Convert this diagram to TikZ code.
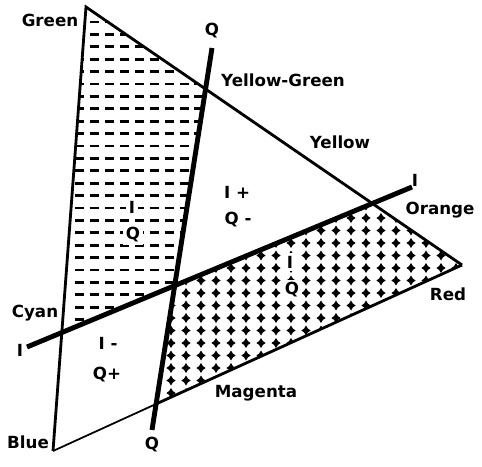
\documentclass[tikz,border=0pt]{standalone}
\usepackage{fontspec}
\setsansfont{DejaVu Sans}
\begin{document}
\begin{tikzpicture}[x=0.02cm, y=-0.02cm,
    edge/.style={line width=1.6pt},
    axis/.style={line width=2.8pt},
    lbl/.style={font=\sffamily\bfseries\fontsize{9.5}{11}\selectfont, inner sep=1pt},
    sgn/.style={lbl, fill=white, inner sep=1.5pt}
  ]
  \useasboundingbox (0,0) rectangle (482,466);
  % corners of the triangle
  \coordinate (gr) at (86,7);
  \coordinate (rd) at (462,265);
  \coordinate (bl) at (53,451);
  % ends of the I and Q axes
  \coordinate (qt) at (212,48);
  \coordinate (qb) at (152,430);
  \coordinate (il) at (27,347);
  \coordinate (ir) at (412,187);
  % crossings
  \coordinate (yg) at (205.5,89);
  \coordinate (cy) at (61.8,332.5);
  \coordinate (or) at (372.4,203.5);
  \coordinate (mg) at (156,404);
  \coordinate (o) at (174.7,285.5);

  % dashed fill, I+ Q+
  \begin{scope}
    \clip (gr) -- (yg) -- (o) -- (cy) -- cycle;
    \foreach \j in {0,...,26}
      \draw[line width=1.6pt, dash pattern=on 5.4pt off 3.1pt]
        (75,22+12.4*\j) -- (230,22+12.4*\j);
  \end{scope}

  % dotted fill, I- Q-
  \begin{scope}
    \clip (o) -- (or) -- (rd) -- (mg) -- cycle;
    \foreach \i in {0,...,21}
      \foreach \j in {0,...,19}
        \fill[shift={(141+15*\i,193+12.5*\j)}]
          (0,-5) -- (1.9,-1.9) -- (4.6,0) -- (1.9,1.9) -- (0,5)
          -- (-1.9,1.9) -- (-4.6,0) -- (-1.9,-1.9) -- cycle;
  \end{scope}

  % triangle
  \draw[edge] (rd) -- (gr) -- (bl);
  \draw[line width=1pt] (bl) -- (mg);
  \draw[edge] (mg) -- (rd);

  % axes
  \draw[axis] (qb) -- (qt);
  \draw[axis] (il) -- (ir);

  % colour names
  \node[lbl] (tgreen) at (50,20) {Green};
  \node[lbl] (tyg) at (283,80) {Yellow-Green};
  \node[lbl] (tyellow) at (340,142) {Yellow};
  \node[lbl] (torange) at (440,210) {Orange};
  \node[lbl] (tred) at (448,294) {Red};
  \node[lbl] (tmagenta) at (256,393) {Magenta};
  \node[lbl] (tblue) at (28,442) {Blue};
  \node[lbl] (tcyan) at (35,313) {Cyan};

  % axis names
  \node[lbl] (tqt) at (212,31) {Q};
  \node[lbl] (tqb) at (152,445) {Q};
  \node[lbl] (tir) at (415,180) {I};
  \node[lbl] (til) at (20,350) {I};

  % quadrant signs
  \node[sgn] (s1i) at (132,207) {I};
  \node[sgn] (s1q) at (133,235) {Q};
  \node[lbl] (s2i) at (237,192) {I +};
  \node[lbl] (s2q) at (238,220) {Q -};
  \node[lbl] (s3i) at (108,343) {I -};
  \node[lbl] (s3q) at (107,375) {Q+};
  \node[sgn] (s4i) at (290,262) {I};
  \node[sgn] (s4q) at (292,290) {Q};
\end{tikzpicture}
\end{document}
